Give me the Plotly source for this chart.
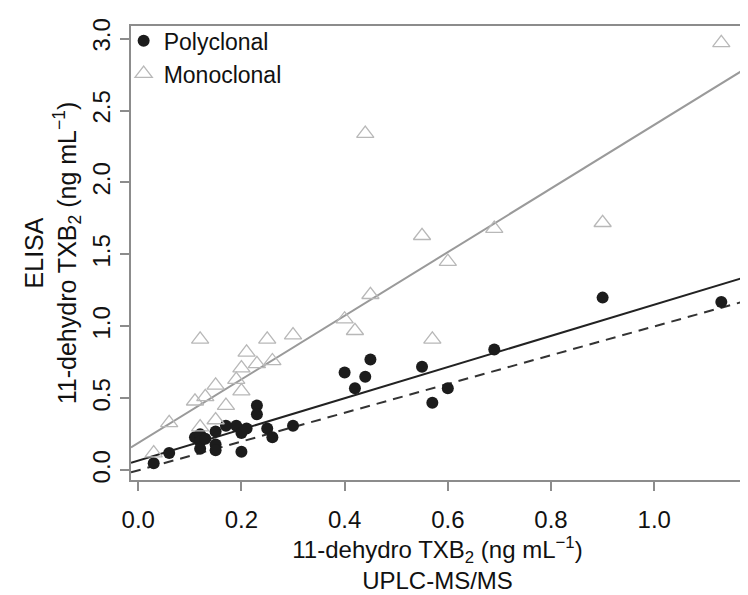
import numpy as np
import plotly.graph_objects as go

# UPLC-MS/MS (x) vs ELISA (y), ng/mL
poly_x = [0.03, 0.06, 0.11, 0.12, 0.12, 0.12, 0.13, 0.15, 0.15, 0.15,
          0.17, 0.19, 0.20, 0.20, 0.21, 0.23, 0.23, 0.25, 0.26, 0.30,
          0.40, 0.42, 0.44, 0.45, 0.55, 0.57, 0.60, 0.69, 0.90, 1.13]
poly_y = [0.05, 0.12, 0.23, 0.25, 0.20, 0.15, 0.22, 0.27, 0.18, 0.14,
          0.31, 0.31, 0.26, 0.13, 0.29, 0.45, 0.39, 0.29, 0.23, 0.31,
          0.68, 0.57, 0.65, 0.77, 0.72, 0.47, 0.57, 0.84, 1.20, 1.17]

mono_x = [0.03, 0.06, 0.11, 0.12, 0.12, 0.13, 0.15, 0.15, 0.17, 0.19,
          0.20, 0.20, 0.21, 0.23, 0.25, 0.26, 0.30, 0.40, 0.42, 0.44,
          0.45, 0.55, 0.57, 0.60, 0.69, 0.90, 1.13]
mono_y = [0.12, 0.33, 0.48, 0.91, 0.30, 0.51, 0.59, 0.35, 0.45, 0.63,
          0.71, 0.55, 0.82, 0.74, 0.91, 0.76, 0.94, 1.05, 0.97, 2.34,
          1.22, 1.63, 0.91, 1.45, 1.68, 1.72, 2.97]

# regression lines: intercept, slope (mono fit, poly fit, identity)
line_names = ["mono", "poly", "identity"]
intercepts = [0.19, 0.068, 0.0]
slopes = [2.21, 1.083, 1.0]

x_range = [-0.014, 1.174]
y_range = [-0.067, 3.087]

FONT = "Liberation Sans, Arial, sans-serif"

fig = go.Figure()

line_styles = {
    "mono": dict(color="#9a9a9a", width=2),
    "poly": dict(color="#222222", width=2),
    "identity": dict(color="#333333", width=2, dash="10px,7px"),
}
xs = np.array(x_range)
for name, a, b in zip(line_names, intercepts, slopes):
    fig.add_trace(go.Scatter(x=xs, y=a + b * xs, mode="lines",
                             line=line_styles[name], showlegend=False,
                             hoverinfo="skip"))

fig.add_trace(go.Scatter(
    name="Polyclonal", x=poly_x, y=poly_y, mode="markers",
    marker=dict(symbol="circle", size=12, color="#1c1c1c",
                line=dict(width=0))))
fig.add_trace(go.Scatter(
    name="Monoclonal", x=mono_x, y=mono_y, mode="markers",
    marker=dict(symbol="triangle-up-open", size=15, color="#b8b8b8",
                line=dict(width=1.3))))

axis_common = dict(
    showgrid=False, zeroline=False, showline=True, mirror=True,
    linecolor="#8c8c8c", linewidth=1.5, ticks="outside", ticklen=9,
    tickcolor="#8c8c8c", tickwidth=1.5,
    tickfont=dict(family=FONT, size=24, color="#111111"),
)

fig.update_xaxes(
    range=x_range, tickvals=[0, 0.2, 0.4, 0.6, 0.8, 1.0],
    ticktext=["0.0", "0.2", "0.4", "0.6", "0.8", "1.0"],
    ticklabelstandoff=8,
    title=dict(text="11-dehydro TXB<sub>2</sub> (ng mL<sup>\u22121</sup>)<br>UPLC-MS/MS",
               font=dict(family=FONT, size=24, color="#111111"), standoff=6),
    **axis_common)
fig.update_yaxes(
    range=y_range, tickvals=[0, 0.5, 1.0, 1.5, 2.0, 2.5, 3.0],
    ticktext=["0.0", "0.5", "1.0", "1.5", "2.0", "2.5", "3.0"],
    tickangle=-90, ticklabelstandoff=1,
    title=dict(text="ELISA<br>11-dehydro TXB<sub>2</sub> (ng mL<sup>\u22121</sup>)",
               font=dict(family=FONT, size=25, color="#111111"), standoff=4),
    **axis_common)

fig.update_layout(
    width=748, height=595,
    margin=dict(l=123, r=10, t=12, b=123),
    paper_bgcolor="white", plot_bgcolor="white",
    font=dict(family=FONT, color="#111111"),
    legend=dict(x=-0.012, y=1.015, xanchor="left", yanchor="top",
                bgcolor="rgba(0,0,0,0)", font=dict(family=FONT, size=23),
                itemwidth=30, tracegroupgap=0),
)

fig.write_html("out.html")
